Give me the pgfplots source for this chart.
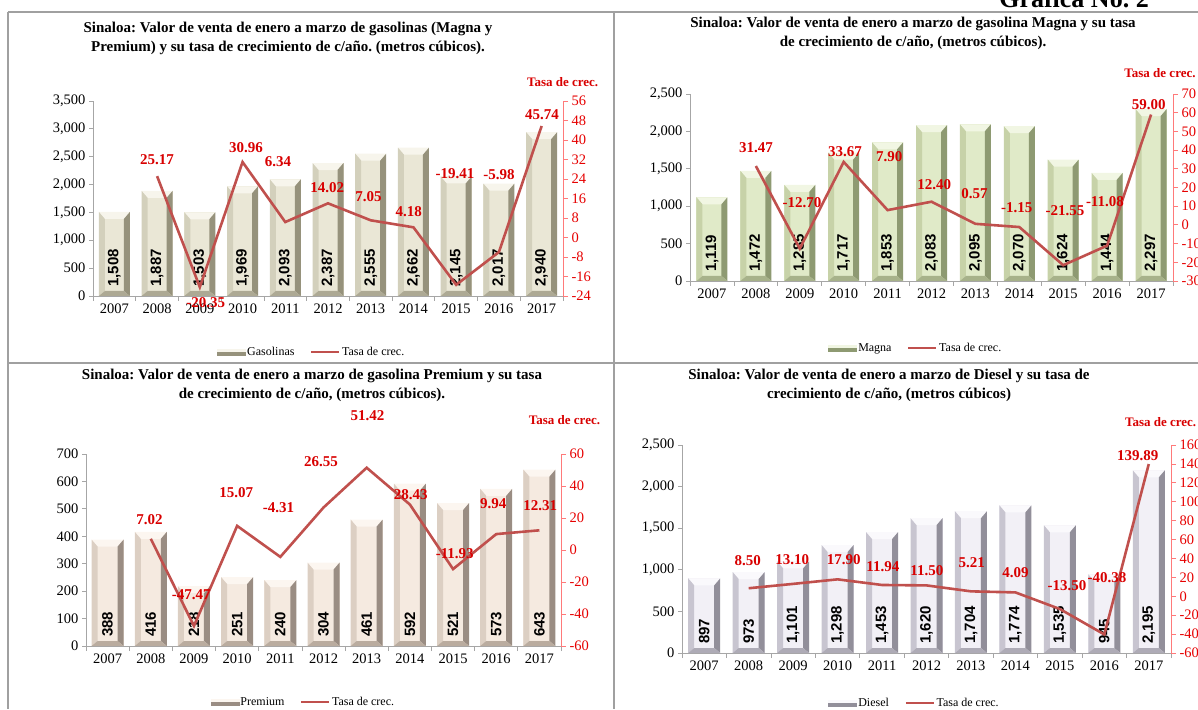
\documentclass[border=0pt]{standalone}
\usepackage{pgfplots}
\pgfplotsset{compat=1.18}
\usepackage{pgfplotstable}
\usepackage{fontspec}
\setmainfont{Liberation Serif}
\newfontfamily\arialfont{Liberation Sans}
\frenchspacing

\definecolor{lineC}{HTML}{C0504D}
\definecolor{labC}{HTML}{D80000}
\definecolor{raxC}{HTML}{FF7A7A}
\definecolor{rtickC}{HTML}{E60000}
\definecolor{frameC}{HTML}{A0A0A0}
\definecolor{axC}{HTML}{A6A6A6}

% face, top, left bevel, right bevel, bottom bevel
\definecolor{gasF}{HTML}{EAE7D6}
\definecolor{gasT}{HTML}{F7F5EC}
\definecolor{gasLe}{HTML}{D3D0BC}
\definecolor{gasR}{HTML}{96927C}
\definecolor{gasB}{HTML}{ADA994}
\definecolor{magF}{HTML}{E0EAC8}
\definecolor{magT}{HTML}{F1F6E3}
\definecolor{magLe}{HTML}{C7D2A8}
\definecolor{magR}{HTML}{8E9A72}
\definecolor{magB}{HTML}{A7B28A}
\definecolor{preF}{HTML}{F5EAE0}
\definecolor{preT}{HTML}{FCF6F0}
\definecolor{preLe}{HTML}{DCCFC3}
\definecolor{preR}{HTML}{9A8D83}
\definecolor{preB}{HTML}{BAAC9F}
\definecolor{dieF}{HTML}{F2F0F6}
\definecolor{dieT}{HTML}{FAF9FC}
\definecolor{dieLe}{HTML}{C8C5D0}
\definecolor{dieR}{HTML}{928F9A}
\definecolor{dieB}{HTML}{AEABB6}

% ---------------- data ----------------
\pgfplotstableread{
x v
0 1508
1 1887
2 1503
3 1969
4 2093
5 2387
6 2555
7 2662
8 2145
9 2017
10 2940
}\gasbar
\pgfplotstableread{
x r
1 25.17
2 -20.35
3 30.96
4 6.34
5 14.02
6 7.05
7 4.18
8 -19.41
9 -5.98
10 45.74
}\gasline
\pgfplotstableread{
x y lab
1 31.8 25.17
2.14 -26.9 -20.35
3.08 36.7 30.96
3.83 31 6.34
4.98 20.3 14.02
5.95 16.6 7.05
6.89 10.5 4.18
7.97 26 -19.41
9.0 26 -5.98
10.01 50.3 45.74
}\gaslab

\pgfplotstableread{
x v
0 1119
1 1472
2 1285
3 1717
4 1853
5 2083
6 2095
7 2070
8 1624
9 1444
10 2297
}\magbar
\pgfplotstableread{
x r
1 31.47
2 -12.70
3 33.67
4 7.90
5 12.40
6 0.57
7 -1.15
8 -21.55
9 -11.08
10 59.00
}\magline
\pgfplotstableread{
x y lab
1.0 41.3 31.47
2.05 11.9 -12.70
3.03 39.2 33.67
4.04 36.5 7.90
5.06 21.7 12.40
5.98 16.9 0.57
6.94 9.2 -1.15
8.04 7.4 -21.55
8.95 12.4 -11.08
9.95 64.5 59.00
}\maglab

\pgfplotstableread{
x v
0 388
1 416
2 218
3 251
4 240
5 304
6 461
7 592
8 521
9 573
10 643
}\prebar
\pgfplotstableread{
x r
1 7.02
2 -47.47
3 15.07
4 -4.31
5 26.55
6 51.42
7 28.43
8 -11.93
9 9.94
10 12.31
}\preline
\pgfplotstableread{
x y lab
0.97 19.2 7.02
1.94 -27.8 -47.47
2.98 35.9 15.07
3.96 26.5 -4.31
4.94 55.4 26.55
6.02 84 51.42
7.02 34.5 28.43
8.04 -2.5 -11.93
8.93 28.8 9.94
10.02 27.6 12.31
}\prelab

\pgfplotstableread{
x v
0 897
1 973
2 1101
3 1298
4 1453
5 1620
6 1704
7 1774
8 1535
9 945
10 2195
}\diebar
\pgfplotstableread{
x r
1 8.50
2 13.10
3 17.90
4 11.94
5 11.50
6 5.21
7 4.09
8 -13.50
9 -40.38
10 139.89
}\dieline
\pgfplotstableread{
x y lab
0.98 38.2 8.50
1.98 38.9 13.10
3.14 38.9 17.90
4.02 31.8 11.94
5.01 27.6 11.50
6.02 35.7 5.21
7.0 25.1 4.09
8.16 11.7 -13.50
9.06 19.8 -40.38
9.75 148.7 139.89
}\dielab

\tikzset{nopp/.style={path picture={}}}

\pgfplotsset{
  common/.style={scale only axis, anchor=south west, xmin=-0.5, xmax=10.5,
    /pgf/number format/assume math mode=true, clip=false},
  leftax/.style={common,
    axis x line*=bottom, axis y line*=left,
    axis line style={axC, line width=0.9pt},
    xtick={0,...,10},
    xticklabels={2007,2008,2009,2010,2011,2012,2013,2014,2015,2016,2017},
    major x tick style={draw=none},
    minor xtick={-0.5,0.5,...,10.5},
    minor tick length=5pt, major tick length=4pt,
    tick align=outside,
    every minor tick/.append style={axC, line width=0.8pt},
    ytick style={axC, line width=0.8pt},
    tick label style={font=\fontsize{14.5}{14.5}\selectfont},
    yticklabel style={/pgf/number format/1000 sep={,}},
  },
  rightax/.style={common,
    axis x line=none, axis y line*=right,
    y axis line style={raxC, line width=0.9pt},
    ytick style={raxC, line width=0.8pt},
    tick align=outside, major tick length=5pt,
    yticklabel style={text=rtickC, font=\fontsize{14.5}{14.5}\selectfont},
    legend style={draw=none, fill=none, font=\fontsize{12}{12}\selectfont,
      legend columns=2, anchor=center,
      /tikz/every even column/.append style={column sep=14pt},
      inner sep=0pt, nodes={inner sep=1.5pt}},
    legend cell align=left,
  },
  barlab/.style={draw=none, mark=none, nodes near coords,
    point meta=explicit,
    nodes near coords={\pgfmathprintnumber[1000 sep={,},assume math mode=true]{\pgfplotspointmeta}},
    nodes near coords align={west},
    every node near coord/.append style={rotate=90, anchor=west,
      inner xsep=9pt, inner ysep=0pt, text=black,
      font=\arialfont\bfseries\fontsize{15}{15}\selectfont}},
  linelab/.style={draw=none, mark=none, nodes near coords,
    point meta=explicit symbolic,
    nodes near coords align={center},
    every node near coord/.append style={anchor=center, text=labC, inner sep=0pt,
      font=\bfseries\fontsize{15}{15}\selectfont}},
  trend/.style={color=lineC, line width=2.6pt, mark=none,
    legend image code/.code={\draw[color=lineC, line width=2.6pt] (0pt,0pt) -- (28pt,0pt);}},
  % bevelled bar: #1 prefix of the colour names (F face, T top, Le left, R right, B bottom)
  bevel/.style={draw=none, fill=#1F, path picture={
    \fill[nopp, #1T] (path picture bounding box.north west) -- (path picture bounding box.north east)
      -- ([xshift=-6pt,yshift=-7pt]path picture bounding box.north east)
      -- ([xshift=6pt,yshift=-7pt]path picture bounding box.north west) -- cycle;
    \fill[nopp, #1Le] (path picture bounding box.north west)
      -- ([xshift=6pt,yshift=-7pt]path picture bounding box.north west)
      -- ([xshift=6pt,yshift=5pt]path picture bounding box.south west)
      -- (path picture bounding box.south west) -- cycle;
    \fill[nopp, #1R] (path picture bounding box.north east)
      -- ([xshift=-6pt,yshift=-7pt]path picture bounding box.north east)
      -- ([xshift=-6pt,yshift=5pt]path picture bounding box.south east)
      -- (path picture bounding box.south east) -- cycle;
    \fill[nopp, #1B] (path picture bounding box.south west)
      -- ([xshift=6pt,yshift=5pt]path picture bounding box.south west)
      -- ([xshift=-6pt,yshift=5pt]path picture bounding box.south east)
      -- (path picture bounding box.south east) -- cycle;
  }},
}

\newcommand{\barlegend}[1]{\addlegendimage{legend image code/.code={
  \fill[#1R] (0pt,-3pt) rectangle (28pt,3pt);
  \fill[#1T] (0pt,1pt) rectangle (28pt,3pt);}}}

% one plot per bar so that each bar gets its own bevel
\newcommand{\bevbars}[3]{%
  \pgfplotsinvokeforeach{0,...,10}{%
    \addplot[ybar, bar width=#3, bar shift=0pt, bevel=#1,
      unbounded coords=discard,
      x filter/.expression={abs(x-##1)<0.1 ? x : nan}] table[x=x,y=v] {#2};}}

\begin{document}
\begin{tikzpicture}[x=1pt,y=1pt]
\useasboundingbox (0,0) rectangle (1198,709);
\clip (0,0) rectangle (1198,709);

% frame lines
\draw[frameC, line width=2pt] (8,697) -- (1198,697);
\draw[frameC, line width=2pt] (8,697) -- (8,0);
\draw[frameC, line width=2pt] (614,697) -- (614,0);
\draw[frameC, line width=2pt] (8,346) -- (1198,346);
\node[anchor=base, font=\bfseries\fontsize{26}{26}\selectfont] at (1074,701) {Gráfica No. 2};

% ================= Panel 1 =================
\node[align=center, font=\bfseries\fontsize{15}{19}\selectfont] at (288,670.5)
  {Sinaloa: Valor de venta de enero a marzo de gasolinas (Magna y\\Premium) y su tasa de crecimiento de c/año. (metros cúbicos).};
\node[text=labC, font=\bfseries\fontsize{13}{13}\selectfont] at (562.6,627) {Tasa de crec.};
\begin{axis}[leftax, at={(93pt,413pt)}, width=470pt, height=195pt,
  ymin=0, ymax=3500, ytick={0,500,...,3500}]
\bevbars{gas}{\gasbar}{31pt}
\addplot[barlab] table[x=x, y expr=0, meta=v] {\gasbar};
\end{axis}
\begin{axis}[rightax, at={(93pt,413pt)}, width=470pt, height=195pt,
  ymin=-24, ymax=56, ytick={-24,-16,...,56},
  legend style={at={(0.465,-0.287)}}]
\barlegend{gas}
\addlegendentry{Gasolinas}
\addplot[trend] table[x=x,y=r] {\gasline};
\addlegendentry{Tasa de crec.}
\addplot[linelab, forget plot] table[x=x,y=y,meta=lab] {\gaslab};
\end{axis}

% ================= Panel 2 =================
\node[align=center, font=\bfseries\fontsize{15}{19}\selectfont] at (913,675.5)
  {Sinaloa: Valor de venta de enero a marzo de gasolina Magna y su tasa\\de crecimiento de c/año, (metros cúbicos).};
\node[text=labC, font=\bfseries\fontsize{13}{13}\selectfont] at (1160,636) {Tasa de crec.};
\begin{axis}[leftax, at={(690pt,428pt)}, width=483pt, height=187pt,
  ymin=0, ymax=2500, ytick={0,500,...,2500}]
\bevbars{mag}{\magbar}{31pt}
\addplot[barlab] table[x=x, y expr=0, meta=v] {\magbar};
\end{axis}
\begin{axis}[rightax, at={(690pt,428pt)}, width=483pt, height=187pt,
  ymin=-30, ymax=70, ytick={-30,-20,...,70},
  legend style={at={(0.467,-0.358)}}]
\barlegend{mag}
\addlegendentry{Magna}
\addplot[trend] table[x=x,y=r] {\magline};
\addlegendentry{Tasa de crec.}
\addplot[linelab, forget plot] table[x=x,y=y,meta=lab] {\maglab};
\end{axis}

% ================= Panel 3 =================
\node[align=center, font=\bfseries\fontsize{15}{19}\selectfont] at (312,323.5)
  {Sinaloa: Valor de venta de enero a marzo de gasolina Premium y su tasa\\de crecimiento de c/año, (metros cúbicos).};
\node[text=labC, font=\bfseries\fontsize{13}{13}\selectfont] at (564.5,289) {Tasa de crec.};
\begin{axis}[leftax, at={(86pt,63pt)}, width=475pt, height=192pt,
  ymin=0, ymax=700, ytick={0,100,...,700}]
\bevbars{pre}{\prebar}{32pt}
\addplot[barlab] table[x=x, y expr=0, meta=v] {\prebar};
\end{axis}
\begin{axis}[rightax, at={(86pt,63pt)}, width=475pt, height=192pt,
  ymin=-60, ymax=60, ytick={-60,-40,...,60},
  legend style={at={(0.457,-0.292)}}]
\barlegend{pre}
\addlegendentry{Premium}
\addplot[trend] table[x=x,y=r] {\preline};
\addlegendentry{Tasa de crec.}
\addplot[linelab, forget plot] table[x=x,y=y,meta=lab] {\prelab};
\end{axis}

% ================= Panel 4 =================
\node[align=center, font=\bfseries\fontsize{15}{19}\selectfont] at (889,323.5)
  {Sinaloa: Valor de venta de enero a marzo de Diesel y su tasa de\\crecimiento de c/año, (metros cúbicos)};
\node[text=labC, font=\bfseries\fontsize{13}{13}\selectfont] at (1160.6,287.3) {Tasa de crec.};
\begin{axis}[leftax, at={(682pt,56pt)}, width=489pt, height=208pt,
  ymin=0, ymax=2500, ytick={0,500,...,2500}]
\bevbars{die}{\diebar}{32pt}
\addplot[barlab] table[x=x, y expr=0, meta=v] {\diebar};
\end{axis}
\begin{axis}[rightax, at={(682pt,56pt)}, width=489pt, height=208pt,
  ymin=-60, ymax=160, ytick={-60,-40,...,160},
  legend style={at={(0.475,-0.240)}}]
\barlegend{die}
\addlegendentry{Diesel}
\addplot[trend] table[x=x,y=r] {\dieline};
\addlegendentry{Tasa de crec.}
\addplot[linelab, forget plot] table[x=x,y=y,meta=lab] {\dielab};
\end{axis}
\end{tikzpicture}
\end{document}
